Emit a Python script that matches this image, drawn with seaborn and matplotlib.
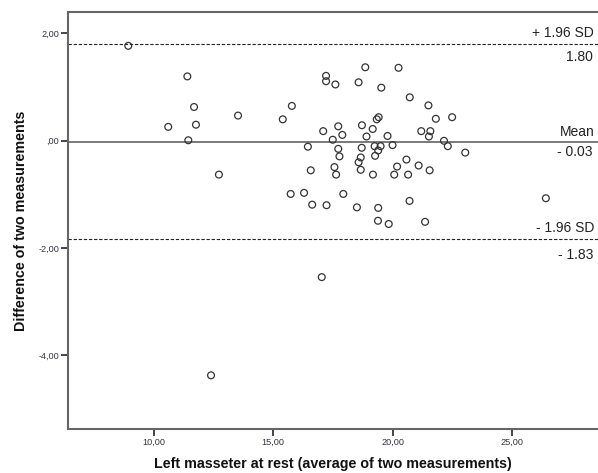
import matplotlib
matplotlib.use("Agg")
import matplotlib.pyplot as plt
import seaborn as sns
import pandas as pd

# Bland-Altman data: average of two measurements (x) and difference (y)
avg_values = [8.94, 11.41, 11.69, 10.61, 11.77, 11.45, 13.53, 15.40, 15.78, 12.73,
              15.73, 18.85, 20.24, 17.21, 17.21, 17.60, 18.57, 19.52, 20.71, 21.49,
              21.80, 22.48, 19.41, 19.33, 17.09, 17.72, 17.89, 18.71, 19.16, 18.90,
              17.49, 19.78, 21.19, 21.57, 21.51, 22.14, 22.30, 23.03, 16.45, 17.72,
              17.77, 18.70, 18.66, 18.57, 19.24, 19.49, 19.99, 19.39, 19.26, 16.57,
              17.56, 17.63, 18.66, 19.17, 20.18, 20.57, 20.06, 20.64, 21.08, 21.54,
              16.29, 17.93, 16.63, 17.23, 18.50, 19.39, 20.70, 26.40, 19.38, 19.83,
              21.35, 17.03, 12.40]
diff_values = [1.77, 1.20, 0.63, 0.26, 0.30, 0.01, 0.47, 0.40, 0.65, -0.63,
               -0.99, 1.37, 1.36, 1.21, 1.11, 1.05, 1.09, 0.99, 0.81, 0.66,
               0.41, 0.44, 0.44, 0.40, 0.18, 0.27, 0.11, 0.29, 0.22, 0.08,
               0.02, 0.09, 0.18, 0.18, 0.08, 0.00, -0.10, -0.22, -0.11, -0.15,
               -0.29, -0.13, -0.31, -0.40, -0.10, -0.10, -0.08, -0.18, -0.28, -0.55,
               -0.49, -0.63, -0.54, -0.63, -0.48, -0.35, -0.63, -0.63, -0.46, -0.55,
               -0.97, -0.99, -1.19, -1.20, -1.24, -1.25, -1.12, -1.07, -1.49, -1.55,
               -1.51, -2.54, -4.37]

mean_diff = -0.03
upper_loa = 1.80
lower_loa = -1.83

line_names = ["+ 1.96 SD", "Mean", "- 1.96 SD"]
line_values = [upper_loa, mean_diff, lower_loa]
line_value_labels = ["1.80", "- 0.03", "- 1.83"]

x_ticks = [10, 15, 20, 25]
x_tick_labels = ["10,00", "15,00", "20,00", "25,00"]
y_ticks = [2, 0, -2, -4]
y_tick_labels = ["2,00", ",00", "-2,00", "-4,00"]

df = pd.DataFrame({"avg": avg_values, "diff": diff_values})

sns.set_style("white")
plt.rcParams["font.family"] = ["Liberation Sans", "DejaVu Sans"]

fig = plt.figure(figsize=(5.98, 4.73), dpi=100)
ax = fig.add_axes([68 / 598, 1 - 429 / 473, 1 - 68 / 598, (429 - 12) / 473])

sns.scatterplot(data=df, x="avg", y="diff", ax=ax, marker="o", s=24,
                facecolor="none", edgecolor="#333333", linewidth=0.9, zorder=3)

ax.axhline(mean_diff, color="#6e6e6e", lw=1.3, zorder=2)
ax.axhline(upper_loa, color="#222222", lw=0.8, ls=(0, (3, 1.6)), zorder=2)
ax.axhline(lower_loa, color="#222222", lw=0.8, ls=(0, (3, 1.6)), zorder=2)

ax.set_xlim(6.42, 28.58)
ax.set_ylim(-5.37, 2.40)

ax.set_xticks(x_ticks)
ax.set_xticklabels(x_tick_labels)
ax.set_yticks(y_ticks)
ax.set_yticklabels(y_tick_labels)
ax.tick_params(axis="both", which="major", direction="out", length=5, width=1.4,
               color="#444444", labelsize=6.6, labelcolor="#333344", pad=1.5)
ax.tick_params(axis="x", bottom=True)
ax.tick_params(axis="y", left=True)

for side in ["left", "bottom", "top"]:
    ax.spines[side].set_color("#666666")
    ax.spines[side].set_linewidth(1.5)
ax.spines["right"].set_visible(False)

ax.set_xlabel("Left masseter at rest (average of two measurements)", fontsize=10.3,
              fontweight="bold", color="#111111", labelpad=7)
ax.set_ylabel("Difference of two measurements", fontsize=10.3, fontweight="bold",
              color="#111111", labelpad=7)

tx = 28.42
tkw = dict(ha="right", va="baseline", fontsize=10, color="#222222")
above = [0.13, 0.125, 0.135]
below = [0.31, 0.25, 0.38]
for name, val, lab, a, b in zip(line_names, line_values, line_value_labels, above, below):
    ax.text(tx, val + a, name, **tkw)
    ax.text(tx - 0.05, val - b, lab, **tkw)

fig.savefig("out.png", dpi=100)
